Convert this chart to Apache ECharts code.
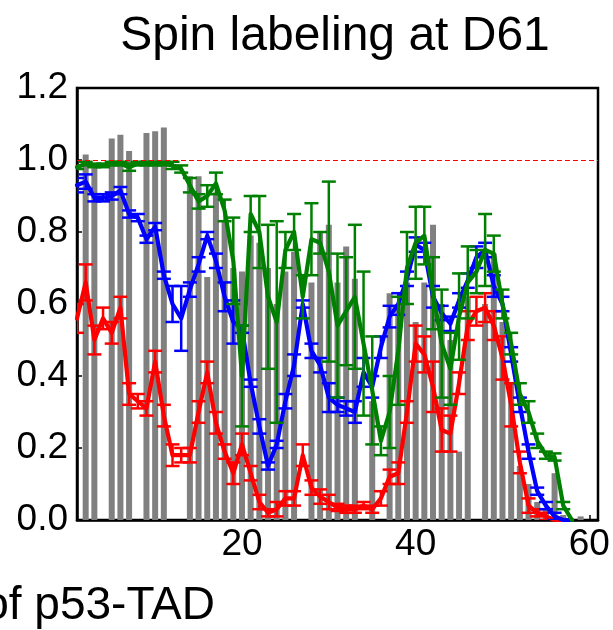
<!DOCTYPE html>
<html>
<head>
<meta charset="utf-8">
<script src="https://cdn.jsdelivr.net/npm/echarts@6/dist/echarts.min.js"></script>
<style>
html,body{margin:0;padding:0;background:#fff;overflow:hidden;}
#c{width:613px;height:630px;}
</style>
</head>
<body>
<div id="c"></div>
<script>
// residues with bars (non-proline)
const barResidues = [2,3,5,6,7,9,10,11,14,15,16,17,18,19,20,21,22,23,24,25,26,28,29,30,31,32,33,35,37,38,39,40,41,42,43,44,45,46,48,49,50,51,52,53,54,55,56,57,59];
const barValues   = [1.015,0.99,1.06,1.07,1.025,1.075,1.08,1.09,0.955,0.955,0.675,0.91,0.83,0.70,0.69,0.79,0.77,0.70,0.60,0.69,0.745,0.66,0.80,0.82,0.66,0.76,0.67,0.33,0.63,0.60,0.66,0.55,0.66,0.82,0.60,0.50,0.19,0.62,0.60,0.74,0.55,0.38,0.15,0.10,0.05,0.03,0.13,0.014,0.01];

// residue numbers for the three curves
const lineResidues = [1,2,3,4,5,6,7,8,9,10,11,12,13,14,15,16,17,18,19,20,21,22,23,24,25,26,27,28,29,30,31,32,33,34,35,36,37,38,39,40,41,42,43,44,45,46,47,48,49,50,51,52,53,54,55,56,57,58];

const redValues = [0.56,0.66,0.50,0.56,0.52,0.59,0.35,0.33,0.31,0.44,0.29,0.18,0.18,0.18,0.30,0.41,0.27,0.19,0.13,0.21,0.13,0.05,0.02,0.03,0.06,0.06,0.18,0.09,0.065,0.05,0.035,0.03,0.03,0.04,0.03,0.06,0.12,0.13,0.30,0.49,0.46,0.37,0.25,0.24,0.38,0.54,0.58,0.59,0.54,0.45,0.32,0.16,0.04,0.02,0.01,0,0,0];
const redErrors = [0.04,0.05,0.04,0.03,0.03,0.03,0.03,0.02,0.02,0.03,0.03,0.03,0.02,0.02,0.03,0.03,0.03,0.02,0.03,0.03,0.02,0.02,0.01,0.02,0.02,0.02,0.03,0.02,0.02,0.02,0.01,0.01,0.01,0.01,0.01,0.02,0.02,0.03,0.03,0.05,0.05,0.07,0.06,0.05,0.03,0.04,0.04,0.04,0.04,0.06,0.06,0.03,0.02,0.01,0.01,0,0,0];

const blueValues = [0.93,0.94,0.895,0.895,0.90,0.915,0.85,0.84,0.78,0.815,0.68,0.60,0.56,0.64,0.71,0.79,0.72,0.62,0.55,0.53,0.38,0.26,0.15,0.21,0.33,0.43,0.60,0.47,0.43,0.34,0.32,0.31,0.30,0.41,0.37,0.48,0.565,0.60,0.67,0.765,0.75,0.62,0.575,0.545,0.61,0.665,0.73,0.75,0.65,0.60,0.46,0.32,0.19,0.08,0.04,0.01,0,0];
const blueErrors = [0.02,0.02,0.01,0.01,0.01,0.01,0.01,0.01,0.01,0.01,0.01,0.05,0.09,0.02,0.02,0.01,0.02,0.04,0.06,0.01,0.01,0.02,0.01,0.01,0.02,0.03,0.01,0.02,0.02,0.04,0.02,0.02,0.03,0.04,0.03,0.03,0.03,0.03,0.02,0.02,0.02,0.03,0.02,0.02,0.02,0.02,0.03,0.02,0.03,0.02,0.02,0.02,0.02,0.01,0.01,0.01,0,0];

const greenValues = [0.98,0.99,0.985,0.985,0.99,0.99,0.98,0.99,0.99,0.99,0.99,0.985,0.975,0.93,0.885,0.90,0.935,0.86,0.72,0.40,0.85,0.80,0.62,0.55,0.75,0.80,0.62,0.78,0.77,0.69,0.54,0.58,0.62,0.49,0.36,0.22,0.30,0.47,0.70,0.77,0.79,0.63,0.49,0.42,0.565,0.66,0.69,0.75,0.74,0.60,0.49,0.35,0.30,0.22,0.18,0.175,0.04,0];
const greenErrors = [0.005,0.005,0.005,0.005,0.005,0.005,0.01,0.005,0.005,0.005,0.005,0.01,0.01,0.02,0.02,0.03,0.03,0.03,0.12,0.14,0.05,0.1,0.2,0.28,0.05,0.05,0.06,0.1,0.03,0.25,0.2,0.15,0.2,0.2,0.15,0.04,0.1,0.15,0.1,0.1,0.08,0.1,0.15,0.1,0.12,0.1,0.06,0.1,0.05,0.04,0.03,0.03,0.03,0.02,0.01,0.01,0.01,0];

const xTicks = [20,40,60];

function pairs(xs, ys){ return xs.map((x,i)=>[x, ys[i]]); }
function triples(xs, ys, es){ return xs.map((x,i)=>[x, ys[i], es[i]]); }

function lineSeries(vals, color, z){
  return {type:'line', data: pairs(lineResidues, vals), symbol:'none', smooth:false,
    lineStyle:{color:color, width:4.2, join:'round', cap:'round'}, z:z, silent:true, animation:false};
}
function errSeries(vals, errs, color, z){
  return {type:'custom', data: triples(lineResidues, vals, errs), z:z, clip:true, silent:true, animation:false,
    renderItem: function(params, api){
      const x = api.value(0), y = api.value(1), e = api.value(2);
      if (!(e > 0)) return null;
      const t = api.coord([x, y+e]);
      const b = api.coord([x, y-e]);
      const hw = 7;
      const st = {stroke: color, lineWidth: 2.5};
      return {type:'group', children:[
        {type:'line', shape:{x1:t[0], y1:t[1], x2:b[0], y2:b[1]}, style:st},
        {type:'line', shape:{x1:t[0]-hw, y1:t[1], x2:t[0]+hw, y2:t[1]}, style:st},
        {type:'line', shape:{x1:b[0]-hw, y1:b[1], x2:b[0]+hw, y2:b[1]}, style:st}
      ]};
    }};
}

const chart = echarts.init(document.getElementById('c'), null, {renderer:'canvas'});
const FONT = '"Liberation Sans", Arial, sans-serif';
chart.setOption({
  animation:false,
  backgroundColor:'#fff',
  grid:{left:77, right:15, top:88, bottom:110, show:true, borderColor:'#000', borderWidth:2.5, backgroundColor:'transparent'},
  xAxis:{type:'value', min:1, max:61,
    axisLine:{show:true, onZero:false, lineStyle:{color:'#000', width:2.5}},
    axisTick:{show:true, inside:true, length:5, customValues:xTicks, lineStyle:{color:'#000', width:1.5}},
    axisLabel:{show:true, customValues:xTicks, fontSize:37, fontFamily:FONT, color:'#000', margin:6},
    splitLine:{show:false}},
  yAxis:{type:'value', min:0, max:1.2, interval:0.2,
    axisLine:{show:true, lineStyle:{color:'#000', width:2.5}},
    axisTick:{show:true, inside:true, length:5, lineStyle:{color:'#000', width:1.5}},
    axisLabel:{show:true, fontSize:37, fontFamily:FONT, color:'#000', margin:9, formatter:v=>v.toFixed(1)},
    splitLine:{show:false}},
  graphic:[
    {type:'text', x:335, y:37, style:{text:'Spin labeling at D61', font:'48px '+FONT, fill:'#000', textAlign:'center', textVerticalAlign:'middle'}},
    {type:'text', x:215, y:606, style:{text:'of p53-TAD', font:'46px '+FONT, fill:'#000', textAlign:'right', textVerticalAlign:'middle'}}
  ],
  series:[
    {type:'bar', data:pairs(barResidues, barValues), barWidth:6, itemStyle:{color:'#808080'}, z:1, silent:true, animation:false,
     markLine:{symbol:'none', silent:true, label:{show:false}, lineStyle:{color:'#ff0000', width:1.2, type:[5,3]}, data:[{yAxis:1.0}]}},
    lineSeries(redValues, '#ff0000', 2), errSeries(redValues, redErrors, '#ff0000', 2),
    lineSeries(blueValues, '#0000ff', 3), errSeries(blueValues, blueErrors, '#0000ff', 3),
    lineSeries(greenValues, '#008000', 4), errSeries(greenValues, greenErrors, '#008000', 4)
  ]
});
</script>
</body>
</html>
